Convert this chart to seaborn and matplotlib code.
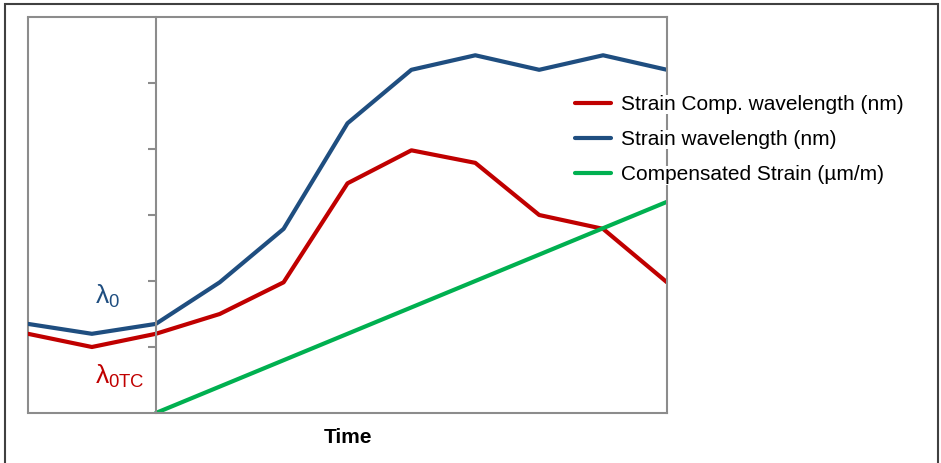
import numpy as np
import pandas as pd
import matplotlib
matplotlib.use('Agg')
import matplotlib.pyplot as plt
import matplotlib.patches as mpatches
import seaborn as sns

# Data (arbitrary units, time axis starts at x = 0)
time_full = [-2, -1, 0, 1, 2, 3, 4, 5, 6, 7, 8]
strain_comp_wl = [1.2, 1.0, 1.2, 1.5, 1.98, 3.48, 3.98, 3.79, 3.0, 2.79, 1.98]
strain_wl = [1.35, 1.2, 1.35, 1.98, 2.79, 4.39, 5.2, 5.42, 5.2, 5.42, 5.2]
time_comp = [0, 1, 2, 3, 4, 5, 6, 7, 8]
comp_strain = [0.0, 0.4, 0.8, 1.2, 1.6, 2.0, 2.4, 2.8, 3.2]

series_names = ['Strain Comp. wavelength (nm)', 'Strain wavelength (nm)',
                'Compensated Strain (\u00b5m/m)']
series_colors = ['#C00000', '#1F4E80', '#00B050']

df = pd.concat([
    pd.DataFrame({'time': time_full, 'value': strain_comp_wl, 'series': series_names[0]}),
    pd.DataFrame({'time': time_full, 'value': strain_wl, 'series': series_names[1]}),
    pd.DataFrame({'time': time_comp, 'value': comp_strain, 'series': series_names[2]}),
])

sns.set_style('white')
plt.rcParams['font.family'] = ['Liberation Sans', 'DejaVu Sans']
plt.rcParams['mathtext.default'] = 'regular'
plt.rcParams['text.color'] = 'black'
plt.rcParams['axes.labelcolor'] = 'black'

W, H = 941, 463
fig = plt.figure(figsize=(W / 100, H / 100), dpi=100)
ax = fig.add_axes([28 / W, (H - 413) / H, 639 / W, 396 / H])

sns.lineplot(data=df, x='time', y='value', hue='series', hue_order=series_names,
             palette=series_colors, linewidth=3, ax=ax, legend=True)

ax.set_xlim(-2, 8)
ax.set_ylim(0, 6)
ax.set_xticks([])
ax.set_yticks([1, 2, 3, 4, 5])
ax.set_yticklabels([])
ax.set_ylabel('')
ax.set_xlabel('Time', fontsize=15, fontweight='bold', labelpad=11)

gray = '#8C8C8C'
for side in ['top', 'right', 'bottom', 'left']:
    ax.spines[side].set_color(gray)
    ax.spines[side].set_linewidth(1.5)
# inner vertical axis at time zero, outer left edge of the box
ax.spines['left'].set_position(('data', 0))
ax.axvline(-2, color=gray, linewidth=1.5, clip_on=False, zorder=0)
ax.tick_params(axis='y', direction='out', length=6, width=1.5, color=gray, left=True)

ax.text(-0.95, 1.65, r'$\lambda_0$', color='#1F4E80', fontsize=19, va='baseline')
ax.text(-0.95, 0.45, r'$\lambda_{0TC}$', color='#C00000', fontsize=19, va='baseline')

leg = ax.legend(loc='upper left', bbox_to_anchor=(575 / W, 1 - 95 / H),
                bbox_transform=fig.transFigure, frameon=False, fontsize=15,
                handlelength=1.73, handletextpad=0.48, labelspacing=0.78,
                borderpad=0, borderaxespad=0)
for line in leg.get_lines():
    line.set_linewidth(3)
for t in leg.get_texts():
    t.set_bbox(dict(facecolor='white', edgecolor='none', pad=0))

# outer frame of the picture
frame = mpatches.Rectangle((5 / W, -0.05), 933 / W, 1.05 - 4 / H, transform=fig.transFigure,
                           fill=False, edgecolor='#404040', linewidth=1.5, clip_on=False)
fig.patches.append(frame)

fig.savefig('out.png', dpi=100)
